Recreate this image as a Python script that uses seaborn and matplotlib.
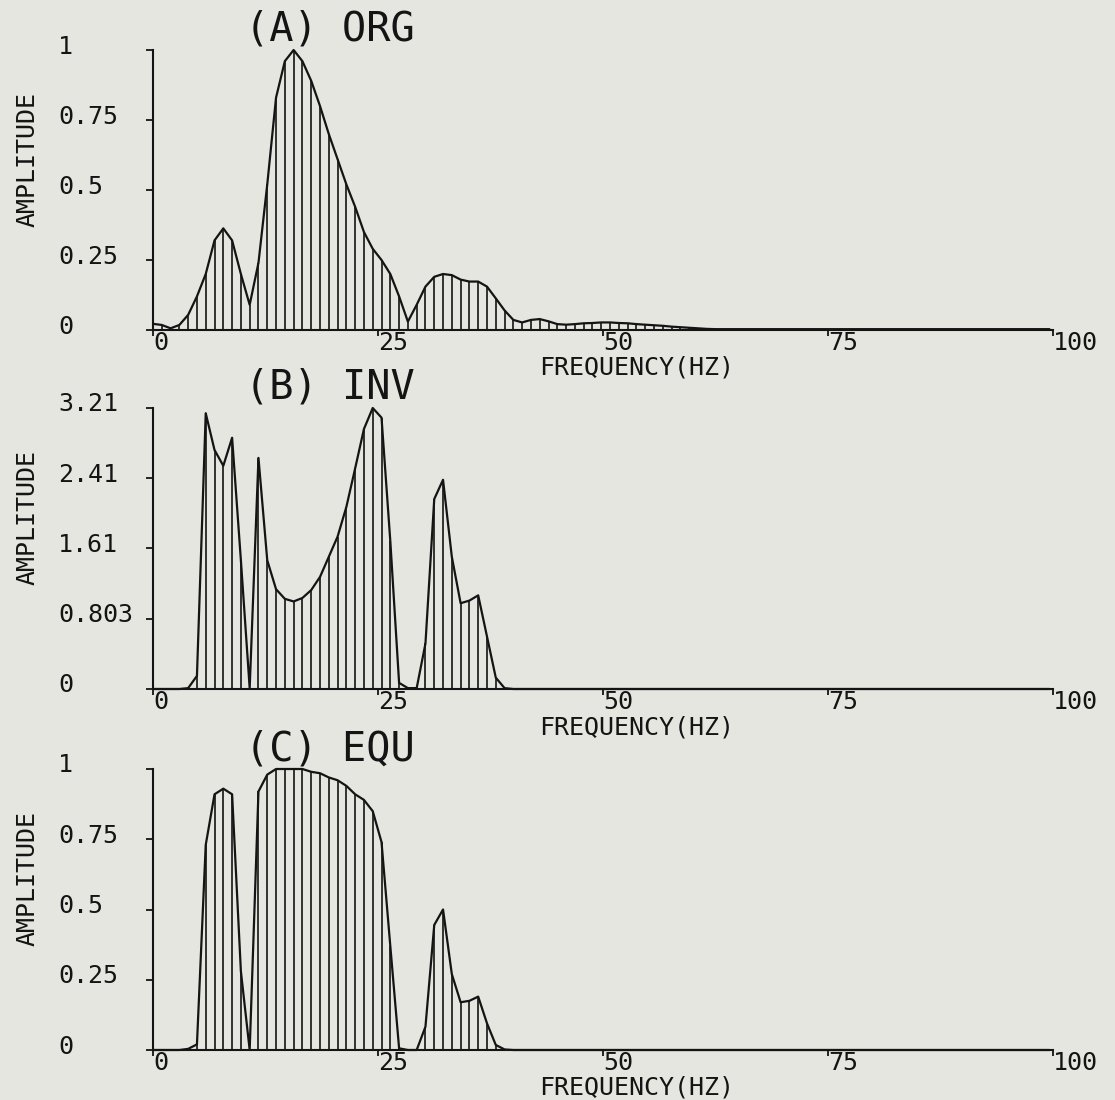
import numpy as np
import pandas as pd
import matplotlib
matplotlib.use("Agg")
import matplotlib.pyplot as plt
import seaborn as sns
from matplotlib.transforms import ScaledTranslation

# ---------------- data ----------------
freq_step = 100 / 102.4          # Hz between spectral samples
sample_index = np.arange(103)

amp_org = [0.022, 0.018, 0.006, 0.018, 0.054, 0.12, 0.20, 0.32, 0.363, 0.32,
           0.20, 0.09, 0.24, 0.52, 0.83, 0.96, 1.00, 0.96, 0.89, 0.80,
           0.70, 0.61, 0.52, 0.44, 0.35, 0.29, 0.25, 0.20, 0.12, 0.03,
           0.09, 0.155, 0.19, 0.20, 0.196, 0.18, 0.173, 0.173, 0.155, 0.113,
           0.07, 0.036, 0.027, 0.036, 0.039, 0.031, 0.021, 0.019, 0.021, 0.024,
           0.025, 0.027, 0.027, 0.025, 0.024, 0.021, 0.019, 0.017, 0.015, 0.012,
           0.010, 0.008, 0.006, 0.004, 0.003, 0.003, 0.003, 0.003, 0.003, 0.003,
           0.003, 0.003, 0.003, 0.003, 0.003, 0.003, 0.003, 0.003, 0.003, 0.003,
           0.003, 0.003, 0.003, 0.003, 0.003, 0.003, 0.003, 0.003, 0.003, 0.003,
           0.003, 0.003, 0.003, 0.003, 0.003, 0.003, 0.003, 0.003, 0.003, 0.003,
           0.003, 0.003, 0.003]

amp_inv = [0.0, 0.0, 0.0, 0.0, 0.01, 0.15, 3.15, 2.73, 2.55, 2.87,
           1.47, 0.01, 2.64, 1.47, 1.14, 1.03, 1.00, 1.04, 1.13, 1.28,
           1.51, 1.74, 2.08, 2.52, 2.97, 3.21, 3.10, 1.69, 0.07, 0.01,
           0.01, 0.52, 2.17, 2.39, 1.51, 0.98, 1.01, 1.07, 0.60, 0.13,
           0.01, 0.0, 0.0, 0.0, 0.0, 0.0, 0.0, 0.0, 0.0, 0.0,
           0.0, 0.0, 0.0, 0.0, 0.0, 0.0, 0.0, 0.0, 0.0, 0.0,
           0.0, 0.0, 0.0, 0.0, 0.0, 0.0, 0.0, 0.0, 0.0, 0.0,
           0.0, 0.0, 0.0, 0.0, 0.0, 0.0, 0.0, 0.0, 0.0, 0.0,
           0.0, 0.0, 0.0, 0.0, 0.0, 0.0, 0.0, 0.0, 0.0, 0.0,
           0.0, 0.0, 0.0, 0.0, 0.0, 0.0, 0.0, 0.0, 0.0, 0.0,
           0.0, 0.0, 0.0]

amp_equ = [0.0, 0.0, 0.0, 0.0, 0.004, 0.02, 0.73, 0.91, 0.93, 0.91,
           0.28, 0.0, 0.92, 0.98, 1.00, 1.00, 1.00, 1.00, 0.99, 0.985,
           0.97, 0.96, 0.94, 0.91, 0.89, 0.85, 0.74, 0.37, 0.006, 0.0,
           0.0, 0.083, 0.445, 0.50, 0.27, 0.17, 0.175, 0.19, 0.095, 0.018,
           0.002, 0.0, 0.0, 0.0, 0.0, 0.0, 0.0, 0.0, 0.0, 0.0,
           0.0, 0.0, 0.0, 0.0, 0.0, 0.0, 0.0, 0.0, 0.0, 0.0,
           0.0, 0.0, 0.0, 0.0, 0.0, 0.0, 0.0, 0.0, 0.0, 0.0,
           0.0, 0.0, 0.0, 0.0, 0.0, 0.0, 0.0, 0.0, 0.0, 0.0,
           0.0, 0.0, 0.0, 0.0, 0.0, 0.0, 0.0, 0.0, 0.0, 0.0,
           0.0, 0.0, 0.0, 0.0, 0.0, 0.0, 0.0, 0.0, 0.0, 0.0,
           0.0, 0.0, 0.0]

panel_titles = ["(A) ORG", "(B) INV", "(C) EQU"]
y_ticks_org = [0, 0.25, 0.5, 0.75, 1.0]
y_labels_org = ["0", "0.25", "0.5", "0.75", "1"]
y_ticks_inv = [0, 0.803, 1.61, 2.41, 3.21]
y_labels_inv = ["0", "0.803", "1.61", "2.41", "3.21"]
y_ticks_equ = [0, 0.25, 0.5, 0.75, 1.0]
y_labels_equ = ["0", "0.25", "0.5", "0.75", "1"]
x_ticks = [0, 25, 50, 75, 100]
x_labels = ["0", "25", "50", "75", "100"]
x_title = "FREQUENCY(HZ)"
y_title = "AMPLITUDE"

# ---------------- styling ----------------
sns.set_theme(style="white")
paper = "#e5e6df"
ink = "#141414"
plt.rcParams["font.family"] = ["DejaVu Sans Mono", "DejaVu Sans"]
plt.rcParams["figure.facecolor"] = paper
plt.rcParams["axes.facecolor"] = paper

W, H = 1115, 1100
fig = plt.figure(figsize=(W / 100, H / 100), dpi=100)

# axes boxes in pixels: (left, top, right, bottom)
boxes = [(153, 50, 1053, 330), (153, 408, 1053, 689), (153, 769, 1053, 1050)]
series = [amp_org, amp_inv, amp_equ]
yticks = [y_ticks_org, y_ticks_inv, y_ticks_equ]
ylabels = [y_labels_org, y_labels_inv, y_labels_equ]

freq = sample_index * freq_step

for box, amp, yt, yl, title in zip(boxes, series, yticks, ylabels, panel_titles):
    l, t, r, b = box
    ax = fig.add_axes([l / W, (H - b) / H, (r - l) / W, (b - t) / H])
    df = pd.DataFrame({"freq": freq, "amp": amp})
    ax.vlines(df["freq"], 0, df["amp"], color=ink, linewidth=1.2, clip_on=False)
    sns.lineplot(data=df, x="freq", y="amp", ax=ax, color=ink, linewidth=1.6,
                 clip_on=False)
    ax.set_xlim(0, 100)
    ax.set_ylim(0, yt[-1])
    for side in ["top", "right"]:
        ax.spines[side].set_visible(False)
    for side in ["left", "bottom"]:
        ax.spines[side].set_color(ink)
        ax.spines[side].set_linewidth(1.5)

    ax.set_xticks(x_ticks, x_labels)
    ax.set_yticks(yt, yl)
    ax.tick_params(axis="y", direction="out", length=5.0, width=1.3, color=ink,
                   pad=63.4, labelsize=18, labelcolor=ink, left=True)
    ax.tick_params(axis="x", direction="out", length=4.0, width=1.3, color=ink,
                   pad=-3.5, labelsize=18, labelcolor=ink, bottom=True)
    up = ScaledTranslation(0, 6 / 100, fig.dpi_scale_trans)
    for lbl in ax.get_yticklabels():
        lbl.set_horizontalalignment("left")
        lbl.set_transform(lbl.get_transform() + up)
    for lbl in ax.get_xticklabels():
        lbl.set_horizontalalignment("left")

    ax.set_xlabel(x_title, fontsize=18, color=ink, va="top")
    ax.xaxis.set_label_coords((637 - l) / (r - l), -26 / (b - t))
    ax.set_ylabel(y_title, fontsize=18, color=ink, va="center")
    ax.yaxis.set_label_coords((28 - l) / (r - l), 0.61)

    ax.text((245 - l) / (r - l), 1 + 9 / (b - t), title, transform=ax.transAxes,
            fontsize=29, color=ink, ha="left", va="baseline")

fig.savefig("out.png", dpi=100, facecolor=paper)
